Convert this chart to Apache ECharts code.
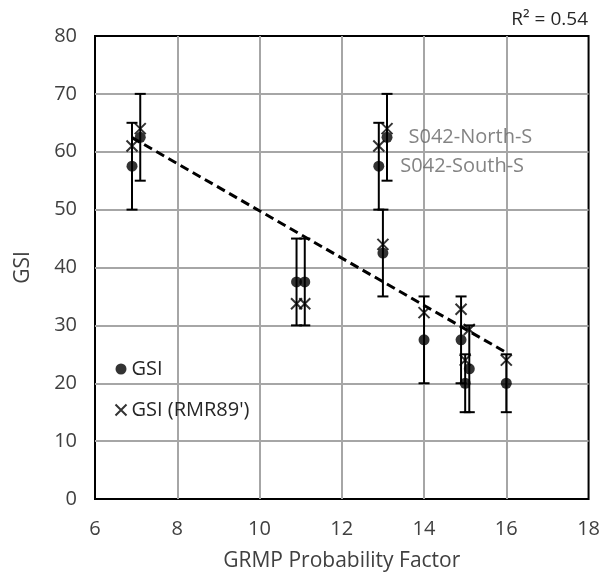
<!DOCTYPE html>
<html>
<head>
<meta charset="utf-8">
<script src="https://cdn.jsdelivr.net/npm/echarts@6/dist/echarts.min.js"></script>
<style>
  html, body { margin: 0; padding: 0; background: #fff; }
  #chart { width: 603px; height: 577px; }
</style>
</head>
<body>
<div id="chart"></div>
<script>
// GSI values with their ranges (error bars)
const gsiX = [6.9, 7.1, 10.9, 11.1, 12.9, 13.1, 13.0, 14.0, 14.9, 15.0, 15.1, 16.0];
const gsiY = [57.5, 62.5, 37.5, 37.5, 57.5, 62.5, 42.5, 27.5, 27.5, 20, 22.5, 20];
const gsiLow = [50, 55, 30, 30, 50, 55, 35, 20, 20, 15, 15, 15];
const gsiHigh = [65, 70, 45, 45, 65, 70, 50, 35, 35, 25, 30, 25];
const gsiNotes = ["", "", "", "", "S042-South-S", "S042-North-S", "", "", "", "", "", ""];

// GSI from RMR89'
const rmrX = [6.9, 7.1, 10.9, 11.1, 12.9, 13.1, 13.0, 14.0, 14.9, 15.0, 15.1, 16.0];
const rmrY = [61, 64, 33.75, 33.75, 61, 64, 44, 32.2, 32.8, 24, 29.3, 24];

const xTicks = [6, 8, 10, 12, 14, 16, 18];
const yTicks = [0, 10, 20, 30, 40, 50, 60, 70, 80];
const r2Text = "R² = 0.54";

// linear trend of the GSI points
const n = gsiX.length;
const mx = gsiX.reduce((a, b) => a + b, 0) / n;
const my = gsiY.reduce((a, b) => a + b, 0) / n;
let sxy = 0, sxx = 0;
for (let i = 0; i < n; i++) {
  sxy += (gsiX[i] - mx) * (gsiY[i] - my);
  sxx += (gsiX[i] - mx) * (gsiX[i] - mx);
}
const slope = sxy / sxx;
const icpt = my - slope * mx;
const xMin = Math.min(...gsiX);
const xMax = Math.max(...gsiX);

const font = "'Open Sans', sans-serif";
const crossPath = "path://M0,0L10,10M10,0L0,10";

const myChart = echarts.init(document.getElementById("chart"));

myChart.setOption({
  animation: false,
  textStyle: { fontFamily: font },
  grid: {
    left: 95,
    right: 9,
    top: 36,
    bottom: 77,
    show: true,
    borderColor: "#000",
    borderWidth: 2,
  },
  graphic: [
    {
      type: "text",
      right: 15,
      top: 10,
      style: {
        text: r2Text,
        font: "19px " + font,
        fill: "#262626",
      },
    },
  ],
  legend: {
    orient: "vertical",
    left: 108,
    top: 354,
    itemGap: 21,
    itemWidth: 11,
    itemHeight: 11,
    textStyle: { fontSize: 20, color: "#262626", fontFamily: font },
    data: [
      { name: "GSI", icon: "circle" },
      { name: "GSI (RMR89')", icon: crossPath, itemStyle: { color: "none", borderColor: "#000", borderWidth: 2 } },
    ],
  },
  xAxis: {
    type: "value",
    min: xTicks[0],
    max: xTicks[xTicks.length - 1],
    interval: 2,
    name: "GRMP Probability Factor",
    nameLocation: "middle",
    nameGap: 52,
    nameTextStyle: { fontSize: 21, color: "#404040" },
    axisLine: { show: false },
    axisTick: { show: false },
    axisLabel: { fontSize: 20, color: "#404040", margin: 20 },
    splitLine: { showMinLine: false, showMaxLine: false, lineStyle: { color: "#a6a6a6", width: 2 } },
  },
  yAxis: {
    type: "value",
    min: yTicks[0],
    max: yTicks[yTicks.length - 1],
    interval: 10,
    name: "GSI",
    nameLocation: "middle",
    nameGap: 61,
    nameTextStyle: { fontSize: 21, color: "#404040" },
    axisLine: { show: false },
    axisTick: { show: false },
    axisLabel: { fontSize: 20, color: "#404040", margin: 18 },
    splitLine: { showMinLine: false, showMaxLine: false, lineStyle: { color: "#a6a6a6", width: 2 } },
  },
  series: [
    {
      name: "trend",
      type: "line",
      symbol: "none",
      silent: true,
      z: 1,
      lineStyle: { color: "#000", width: 3, type: [9, 5] },
      data: [
        [xMin, icpt + slope * xMin],
        [xMax, icpt + slope * xMax],
      ],
    },
    {
      name: "range",
      type: "custom",
      z: 2,
      encode: { x: 0, y: [1, 2] },
      renderItem: (params, api) => {
        const x = api.value(0);
        const lo = api.coord([x, api.value(1)]);
        const hi = api.coord([x, api.value(2)]);
        const half = 5.5;
        const st = { stroke: "#000", lineWidth: 2 };
        return {
          type: "group",
          children: [
            { type: "line", shape: { x1: lo[0], y1: lo[1], x2: hi[0], y2: hi[1] }, style: st },
            { type: "line", shape: { x1: hi[0] - half, y1: hi[1], x2: hi[0] + half, y2: hi[1] }, style: st },
            { type: "line", shape: { x1: lo[0] - half, y1: lo[1], x2: lo[0] + half, y2: lo[1] }, style: st },
          ],
        };
      },
      data: gsiX.map((x, i) => [x, gsiLow[i], gsiHigh[i]]),
    },
    {
      name: "GSI",
      type: "scatter",
      symbol: "circle",
      symbolSize: 11,
      z: 3,
      itemStyle: { color: "#000" },
      label: {
        show: true,
        position: "right",
        distance: 16,
        fontSize: 20,
        color: "#646464",
        formatter: (p) => gsiNotes[p.dataIndex],
      },
      data: gsiX.map((x, i) => [x, gsiY[i]]),
    },
    {
      name: "GSI (RMR89')",
      type: "scatter",
      symbol: crossPath,
      symbolSize: 11,
      z: 4,
      itemStyle: { color: "none", borderColor: "#000", borderWidth: 2 },
      data: rmrX.map((x, i) => [x, rmrY[i]]),
    },
  ],
});
</script>
</body>
</html>
